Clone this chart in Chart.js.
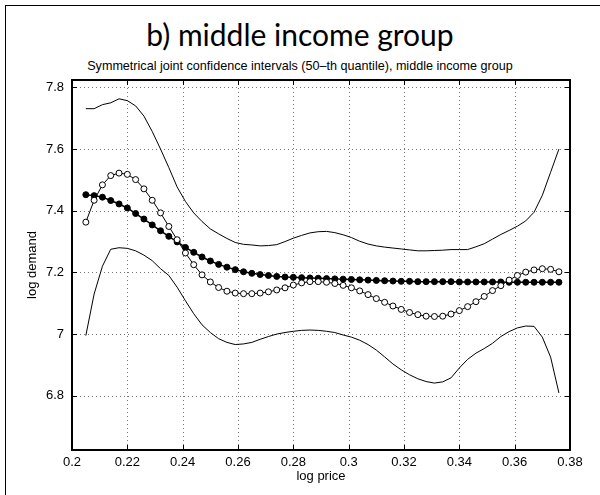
<!DOCTYPE html>
<html>
<head>
<meta charset="utf-8">
<script src="https://cdn.jsdelivr.net/npm/chart.js@4.4.1/dist/chart.umd.min.js"></script>
<style>
  body { margin: 0; background: #fff; }
  #wrap { position: relative; width: 600px; height: 495px; overflow: hidden; }
  #frame { position: absolute; left: 5px; top: 5px; width: 600px; height: 500px;
           border-left: 1px solid #000; border-top: 1px solid #000; }
  #title { position: absolute; left: 0; top: 17px; width: 600px; text-align: center;
           font-family: Lato, sans-serif; font-size: 30px; line-height: 34px; color: #000; }
  #subtitle { position: absolute; left: 0; top: 59px; width: 600px; text-align: center;
              font-family: "Liberation Sans", Arial, sans-serif; font-size: 12.6px; line-height: 14px; color: #000; }
  canvas { position: absolute; left: 0; top: 0; }
</style>
</head>
<body>
<div id="wrap">
  <div id="frame"></div>
  <div id="title">b) middle income group</div>
  <div id="subtitle">Symmetrical joint confidence intervals (50–th quantile), middle income group</div>
  <canvas id="chart" width="600" height="495"></canvas>
</div>
<script>
// log price grid points
var logPrice = [0.205, 0.208, 0.211, 0.214, 0.217, 0.220, 0.223, 0.226, 0.229, 0.232,
                0.235, 0.238, 0.241, 0.244, 0.247, 0.250, 0.253, 0.256, 0.259, 0.262,
                0.265, 0.268, 0.271, 0.274, 0.277, 0.280, 0.283, 0.286, 0.289, 0.292,
                0.295, 0.298, 0.301, 0.304, 0.307, 0.310, 0.313, 0.316, 0.319, 0.322,
                0.325, 0.328, 0.331, 0.334, 0.337, 0.340, 0.343, 0.346, 0.349, 0.352,
                0.355, 0.358, 0.361, 0.364, 0.367, 0.370, 0.373, 0.376];

// upper confidence band
var upperBand = [7.731, 7.731, 7.744, 7.750, 7.763, 7.757, 7.740, 7.707, 7.657, 7.600,
                 7.540, 7.477, 7.430, 7.393, 7.365, 7.341, 7.325, 7.310, 7.297, 7.291,
                 7.289, 7.286, 7.287, 7.290, 7.300, 7.311, 7.320, 7.328, 7.332, 7.333,
                 7.329, 7.322, 7.313, 7.301, 7.292, 7.286, 7.282, 7.279, 7.276, 7.273,
                 7.270, 7.270, 7.271, 7.272, 7.274, 7.274, 7.274, 7.283, 7.293, 7.308,
                 7.323, 7.336, 7.350, 7.367, 7.395, 7.450, 7.525, 7.600];

// lower confidence band
var lowerBand = [6.995, 7.130, 7.220, 7.275, 7.280, 7.278, 7.270, 7.256, 7.238, 7.212,
                 7.190, 7.152, 7.108, 7.066, 7.030, 7.005, 6.985, 6.973, 6.966, 6.968,
                 6.973, 6.983, 6.992, 7.000, 7.005, 7.009, 7.012, 7.013, 7.012, 7.009,
                 7.005, 6.997, 6.990, 6.980, 6.966, 6.948, 6.926, 6.903, 6.884, 6.868,
                 6.855, 6.846, 6.841, 6.845, 6.858, 6.890, 6.918, 6.938, 6.953, 6.970,
                 6.992, 7.008, 7.020, 7.026, 7.025, 6.990, 6.925, 6.809];

// nonparametric estimate (open circles)
var openEst = [7.363, 7.434, 7.484, 7.514, 7.522, 7.518, 7.501, 7.471, 7.434, 7.393,
               7.349, 7.306, 7.263, 7.225, 7.192, 7.169, 7.151, 7.139, 7.133, 7.131,
               7.131, 7.133, 7.137, 7.143, 7.150, 7.159, 7.166, 7.170, 7.170, 7.168,
               7.164, 7.158, 7.150, 7.140, 7.128, 7.115, 7.103, 7.091, 7.080, 7.070,
               7.063, 7.058, 7.057, 7.058, 7.065, 7.076, 7.089, 7.105, 7.122, 7.141,
               7.157, 7.175, 7.190, 7.201, 7.208, 7.212, 7.210, 7.202];

// parametric estimate (filled circles)
var filledEst = [7.452, 7.449, 7.444, 7.433, 7.422, 7.409, 7.391, 7.373, 7.354, 7.335,
                 7.317, 7.299, 7.281, 7.265, 7.250, 7.237, 7.226, 7.217, 7.209, 7.202,
                 7.197, 7.193, 7.190, 7.187, 7.185, 7.184, 7.183, 7.182, 7.181, 7.180,
                 7.179, 7.178, 7.177, 7.176, 7.175, 7.174, 7.173, 7.172, 7.171, 7.171,
                 7.170, 7.170, 7.170, 7.170, 7.170, 7.169, 7.169, 7.169, 7.169, 7.169,
                 7.169, 7.168, 7.168, 7.168, 7.168, 7.168, 7.168, 7.168];

var xTicks = [0.2, 0.22, 0.24, 0.26, 0.28, 0.3, 0.32, 0.34, 0.36, 0.38];
var yTicks = [6.8, 7.0, 7.2, 7.4, 7.6, 7.8];

function pts(ys) {
    return logPrice.map(function(x, i) { return {x: x, y: ys[i]}; });
}

function fmt(v) {
    return String(+v.toFixed(2));
}

// dotted grid, box and inward ticks like the matlab figure
var boxGrid = {
    id: 'boxGrid',
    beforeDatasetsDraw: function(chart) {
        var ctx = chart.ctx, a = chart.chartArea;
        var sx = chart.scales.x, sy = chart.scales.y;
        ctx.save();
        ctx.strokeStyle = '#777';
        ctx.lineWidth = 1;
        ctx.setLineDash([1, 3]);
        xTicks.forEach(function(v) {
            var px = Math.round(sx.getPixelForValue(v)) + 0.5;
            ctx.beginPath(); ctx.moveTo(px, a.top); ctx.lineTo(px, a.bottom); ctx.stroke();
        });
        yTicks.forEach(function(v) {
            var py = Math.round(sy.getPixelForValue(v)) + 0.5;
            ctx.beginPath(); ctx.moveTo(a.left, py); ctx.lineTo(a.right, py); ctx.stroke();
        });
        ctx.restore();
    },
    afterDatasetsDraw: function(chart) {
        var ctx = chart.ctx, a = chart.chartArea;
        var sx = chart.scales.x, sy = chart.scales.y;
        ctx.save();
        ctx.strokeStyle = '#000';
        ctx.lineWidth = 1;
        xTicks.forEach(function(v) {
            var px = Math.round(sx.getPixelForValue(v)) + 0.5;
            ctx.beginPath();
            ctx.moveTo(px, a.bottom); ctx.lineTo(px, a.bottom - 5);
            ctx.moveTo(px, a.top); ctx.lineTo(px, a.top + 5);
            ctx.stroke();
        });
        yTicks.forEach(function(v) {
            var py = Math.round(sy.getPixelForValue(v)) + 0.5;
            ctx.beginPath();
            ctx.moveTo(a.left, py); ctx.lineTo(a.left + 5, py);
            ctx.moveTo(a.right, py); ctx.lineTo(a.right - 5, py);
            ctx.stroke();
        });
        ctx.lineWidth = 2;
        ctx.strokeRect(a.left, a.top, a.right - a.left, a.bottom - a.top);
        ctx.restore();
    }
};

var tickFont = {family: 'Liberation Sans', size: 13};

new Chart(document.getElementById('chart').getContext('2d'), {
    type: 'line',
    data: {
        datasets: [
            {
                data: pts(upperBand),
                borderColor: '#000', borderWidth: 1, pointRadius: 0, tension: 0
            },
            {
                data: pts(lowerBand),
                borderColor: '#000', borderWidth: 1, pointRadius: 0, tension: 0
            },
            {
                data: pts(openEst),
                borderColor: '#000', borderWidth: 1, tension: 0,
                pointRadius: 3, pointBorderWidth: 1,
                pointBackgroundColor: '#fff', pointBorderColor: '#000'
            },
            {
                data: pts(filledEst),
                borderColor: '#000', borderWidth: 1.5, tension: 0,
                pointRadius: 3, pointBorderWidth: 1,
                pointBackgroundColor: '#000', pointBorderColor: '#000'
            }
        ]
    },
    options: {
        responsive: false,
        animation: false,
        layout: {padding: {left: 0, right: 30, top: 80, bottom: 0}},
        plugins: {legend: {display: false}, tooltip: {enabled: false}},
        scales: {
            x: {
                type: 'linear', min: 0.2, max: 0.38,
                afterBuildTicks: function(s) { s.ticks = xTicks.map(function(v) { return {value: v}; }); },
                afterFit: function(s) { s.height = 45; },
                grid: {display: false, drawTicks: false},
                border: {display: false},
                ticks: {callback: fmt, color: '#000', font: tickFont, padding: 5, maxRotation: 0, autoSkip: false},
                title: {display: true, text: 'log price', color: '#000', font: tickFont, padding: {top: 0, bottom: 11}}
            },
            y: {
                type: 'linear', min: 6.624, max: 7.824,
                afterBuildTicks: function(s) { s.ticks = yTicks.map(function(v) { return {value: v}; }); },
                afterFit: function(s) { s.width = 72; },
                grid: {display: false, drawTicks: false},
                border: {display: false},
                ticks: {callback: fmt, color: '#000', font: tickFont, padding: 8, autoSkip: false},
                title: {display: true, text: 'log demand', color: '#000', font: tickFont, padding: {top: 25, bottom: 0}}
            }
        }
    },
    plugins: [boxGrid]
});
</script>
</body>
</html>
